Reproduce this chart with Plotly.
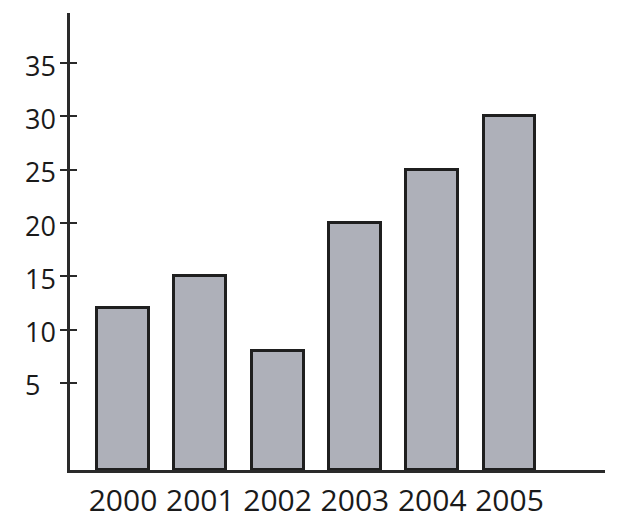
import plotly.graph_objects as go

years = ["2000", "2001", "2002", "2003", "2004", "2005"]
values = [12, 15, 8, 20, 25, 30]
y_ticks = [5, 10, 15, 20, 25, 30, 35]
y_tick_labels = ["5", "10", "15", "20", "25", "30", "35"]

YMIN, YMAX = -3.16, 39.7
FONT = "Open Sans, Liberation Sans, sans-serif"
AXIS_COLOR = "#2a2a2a"

fig = go.Figure()
fig.add_trace(go.Bar(
    x=years,
    y=[v - YMIN for v in values],
    base=YMIN,
    width=0.67,
    marker=dict(color="#aeb0b9", line=dict(color="#1f1f1f", width=3)),
    hovertext=[str(v) for v in values],
    hoverinfo="x+text",
))

# invisible trace to activate yaxis2 (inner half of the crossing tick marks)
fig.add_trace(go.Scatter(x=[years[0]], y=[values[0]], yaxis="y2",
                         mode="markers", marker=dict(opacity=0),
                         hoverinfo="skip"))

fig.update_layout(
    width=612, height=521,
    margin=dict(l=62, r=15, t=5, b=59),
    paper_bgcolor="white", plot_bgcolor="white",
    showlegend=False,
    bargap=0,
    xaxis=dict(
        type="category",
        range=[-0.686, 6.235],
        automargin=False,
        showline=True, linecolor=AXIS_COLOR, linewidth=2.5,
        showgrid=False, zeroline=False,
        ticks="", ticklabelstandoff=2,
        tickfont=dict(family=FONT, size=30, color="#1a1a1a"),
    ),
    yaxis=dict(
        range=[YMIN, YMAX],
        automargin=False,
        showline=True, linecolor=AXIS_COLOR, linewidth=2.5,
        showgrid=False, zeroline=False,
        tickvals=y_ticks, ticks="outside", ticklen=7, tickwidth=2,
        tickcolor=AXIS_COLOR,
        showticklabels=False,
    ),
    yaxis2=dict(
        range=[YMIN, YMAX], overlaying="y", side="left", anchor="x",
        automargin=False,
        showline=False, showgrid=False, zeroline=False,
        tickvals=y_ticks, ticks="inside", ticklen=7, tickwidth=2,
        tickcolor=AXIS_COLOR, showticklabels=False,
    ),
)

for val, lab in zip(y_ticks, y_tick_labels):
    fig.add_annotation(
        x=-0.0879, xref="paper", y=val, yref="y",
        text=lab, showarrow=False, xanchor="left", yanchor="middle",
        yshift=-2,
        font=dict(family=FONT, size=27, color="#1a1a1a"),
    )

fig.write_html("out.html")
